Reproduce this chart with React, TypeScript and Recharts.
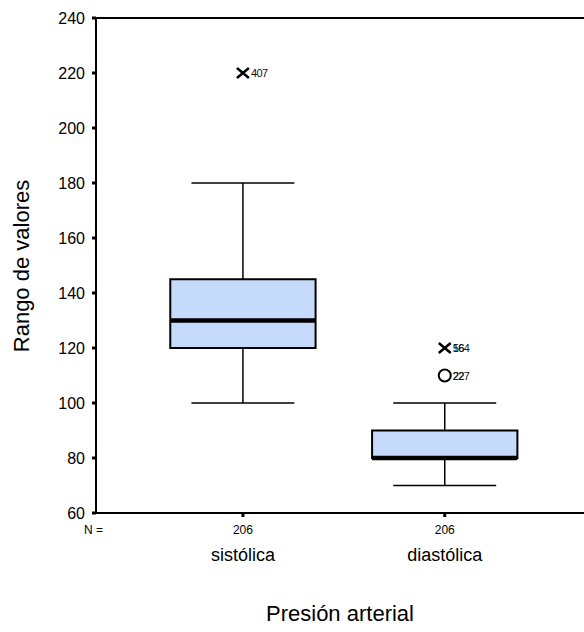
import {
  ComposedChart,
  Label,
  ReferenceArea,
  ReferenceLine,
  Scatter,
  XAxis,
  YAxis,
} from 'recharts'

const categories = ['sistólica', 'diastólica']
const counts = [206, 206]
const whiskerLow = [100, 70]
const q1 = [120, 80]
const median = [130, 80]
const q3 = [145, 90]
const whiskerHigh = [180, 100]

// extreme values (x marks) and outliers (circles), with case labels
const extremes = [
  { x: 1, y: 220, labels: ['407'] },
  { x: 2, y: 120, labels: ['164', '56'] },
]
const outliers = [{ x: 2, y: 110, labels: ['227', '22'] }]

const yTicks = [60, 80, 100, 120, 140, 160, 180, 200, 220, 240]
const xTicks = [1, 2]

const FONT = '"Liberation Sans", Arial, sans-serif'
const BOX_HALF = 0.36
const CAP_HALF = 0.255

function CatTick(props: any) {
  const { x, y, payload } = props
  const i = payload.value - 1
  return (
    <g fontFamily={FONT} fill="#000">
      <text x={x} y={y + 15} textAnchor="middle" fontSize={12}>
        {counts[i]}
      </text>
      <text x={x} y={y + 42} textAnchor="middle" fontSize={18}>
        {categories[i]}
      </text>
    </g>
  )
}

// SPSS draws the case numbers on top of each other when values tie
function caseLabels(cx: number, cy: number, labels: string[]) {
  return labels.map((l) => (
    <text
      key={l}
      x={cx + 7}
      y={cy + 4}
      fontSize={11}
      letterSpacing={-0.6}
      fontFamily={FONT}
      fill="#111"
    >
      {l}
    </text>
  ))
}

function ExtremeMark(props: any) {
  const { cx, cy, payload } = props
  return (
    <g>
      <path
        d={`M${cx - 6},${cy - 5}L${cx + 6},${cy + 5}M${cx - 6},${cy + 5}L${cx + 6},${cy - 5}`}
        stroke="#000"
        strokeWidth={2.5}
      />
      {caseLabels(cx + 1, cy, payload.labels)}
    </g>
  )
}

function OutlierMark(props: any) {
  const { cx, cy, payload } = props
  return (
    <g>
      <circle cx={cx} cy={cy} r={6} fill="none" stroke="#000" strokeWidth={2} />
      {caseLabels(cx + 1, cy, payload.labels)}
    </g>
  )
}

export default function App() {
  return (
    <div style={{ position: 'absolute', left: 0, top: 0, background: '#fff' }}>
      <ComposedChart
        width={584}
        height={632}
        margin={{ top: 18, right: 0, bottom: 0, left: 0 }}
      >
        <XAxis
          type="number"
          dataKey="x"
          domain={[0.272, 2.69]}
          ticks={xTicks}
          allowDataOverflow
          height={119}
          axisLine={{ stroke: '#000', strokeWidth: 2 }}
          tickLine={{ stroke: '#000', strokeWidth: 3 }}
          tickSize={4}
          tick={<CatTick />}
        >
          <Label
            content={(p: any) => {
              const vb = p.viewBox
              return (
                <g fontFamily={FONT} fill="#000">
                  <text x={84} y={vb.y + 21} fontSize={12}>
                    N =
                  </text>
                  <text x={340} y={vb.y + 108} textAnchor="middle" fontSize={22}>
                    Presión arterial
                  </text>
                </g>
              )
            }}
          />
        </XAxis>
        <YAxis
          type="number"
          dataKey="y"
          domain={[60, 240]}
          ticks={yTicks}
          allowDataOverflow
          width={96}
          axisLine={{ stroke: '#000', strokeWidth: 2 }}
          tickLine={{ stroke: '#000', strokeWidth: 3 }}
          tickSize={4}
          tickMargin={7}
          tick={{ fill: '#000', fontSize: 16, fontFamily: FONT }}
        >
          <Label
            content={() => (
              <text
                x={21}
                y={266}
                transform="rotate(-90 21 266)"
                textAnchor="middle"
                dominantBaseline="central"
                fontSize={22}
                fontFamily={FONT}
                fill="#000"
              >
                Rango de valores
              </text>
            )}
          />
        </YAxis>

        <ReferenceLine y={240} stroke="#000" strokeWidth={2} ifOverflow="visible" />

        {categories.map((c, i) => (
          <ReferenceArea
            key={c + '-box'}
            x1={i + 1 - BOX_HALF}
            x2={i + 1 + BOX_HALF}
            y1={q1[i]}
            y2={q3[i]}
            fill="#c6dbfc"
            fillOpacity={1}
            stroke="#000"
            strokeWidth={2}
          />
        ))}
        {categories.map((c, i) => [
          <ReferenceLine
            key={c + '-wu'}
            segment={[
              { x: i + 1, y: q3[i] },
              { x: i + 1, y: whiskerHigh[i] },
            ]}
            stroke="#000"
            strokeWidth={1.5}
          />,
          <ReferenceLine
            key={c + '-wl'}
            segment={[
              { x: i + 1, y: q1[i] },
              { x: i + 1, y: whiskerLow[i] },
            ]}
            stroke="#000"
            strokeWidth={1.5}
          />,
          <ReferenceLine
            key={c + '-cu'}
            segment={[
              { x: i + 1 - CAP_HALF, y: whiskerHigh[i] },
              { x: i + 1 + CAP_HALF, y: whiskerHigh[i] },
            ]}
            stroke="#000"
            strokeWidth={1.5}
          />,
          <ReferenceLine
            key={c + '-cl'}
            segment={[
              { x: i + 1 - CAP_HALF, y: whiskerLow[i] },
              { x: i + 1 + CAP_HALF, y: whiskerLow[i] },
            ]}
            stroke="#000"
            strokeWidth={1.5}
          />,
          <ReferenceLine
            key={c + '-med'}
            segment={[
              { x: i + 1 - BOX_HALF, y: median[i] },
              { x: i + 1 + BOX_HALF, y: median[i] },
            ]}
            stroke="#000"
            strokeWidth={4.5}
          />,
        ])}

        <Scatter data={outliers} dataKey="y" shape={<OutlierMark />} isAnimationActive={false} />
        <Scatter data={extremes} dataKey="y" shape={<ExtremeMark />} isAnimationActive={false} />
      </ComposedChart>
    </div>
  )
}
